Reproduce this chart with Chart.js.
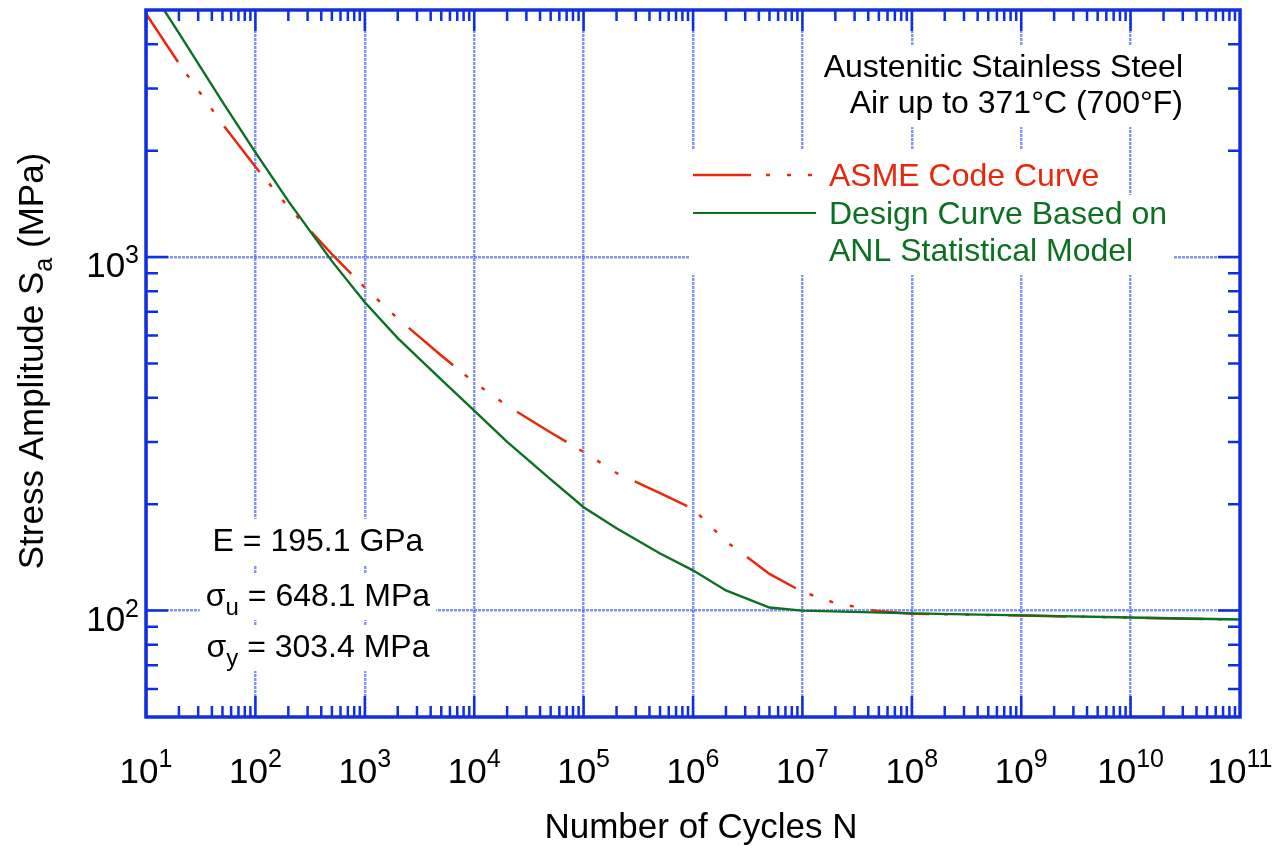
<!DOCTYPE html>
<html>
<head>
<meta charset="utf-8">
<script src="https://cdn.jsdelivr.net/npm/chart.js@4.4.0/dist/chart.umd.min.js"></script>
<style>
  html, body { margin: 0; padding: 0; background: #fff; }
</style>
</head>
<body>
<canvas id="fatigueChart" width="1278" height="848"></canvas>
<script>
// ASME code curve, austenitic SS (MPa)
const asmeCycles = [10, 20, 50, 100, 200, 500, 1e3, 2e3, 5e3, 1e4, 2e4, 5e4, 1e5, 2e5, 5e5, 1e6, 2e6, 5e6, 1e7, 2e7, 5e7, 1e8, 1e9, 1e10, 1e11];
const asmeStress = [4881, 3530, 2379, 1800, 1386, 1020, 820, 670, 527, 442, 380, 319, 281, 245, 215, 194, 157, 127, 113, 105, 99.5, 98, 96.8, 95.5, 94.3];

// design curve from ANL statistical model (MPa)
const anlCycles = [10, 20, 50, 100, 200, 500, 1e3, 2e3, 5e3, 1e4, 2e4, 5e4, 1e5, 2e5, 5e5, 1e6, 2e6, 5e6, 1e7, 1e8, 1e9, 1e10, 1e11];
const anlStress = [6000, 4300, 2748, 1978, 1440, 974, 745, 590, 450, 368, 300, 235, 196, 171, 145, 130, 114, 102, 100, 98.2, 96.9, 95.6, 94.4];

const xTickExps = [1, 2, 3, 4, 5, 6, 7, 8, 9, 10, 11];
const yTickExps = [2, 3];

const seriesNames = ['ASME Code Curve', 'Design Curve Based on ANL Statistical Model'];

const FONT = '"Liberation Sans", Arial, Helvetica, sans-serif';
const AXIS_BLUE = '#1030e0';
const GRID_BLUE = 'rgba(45,80,235,0.6)';
const RED = '#e8280c';
const GREEN = '#0b7021';
const redDash = [58, 15, 4, 17, 4, 17, 4, 18];

function toPoints(xs, ys) {
  return xs.map((x, i) => ({ x: x, y: ys[i] }));
}

// draw a run of text pieces (for sub/superscripts); returns width
function textRun(ctx, parts, x, y, align, box) {
  let w = 0;
  parts.forEach(p => {
    ctx.font = p.size + 'px ' + FONT;
    p.w = ctx.measureText(p.t).width;
    w += p.w;
  });
  let left = x;
  if (align === 'center') left = x - w / 2;
  if (align === 'right') left = x - w;
  if (box) {
    ctx.fillStyle = '#fff';
    ctx.fillRect(left - 6, y - 32, w + 12, 46);
  }
  ctx.textAlign = 'left';
  ctx.textBaseline = 'alphabetic';
  let cx = left;
  parts.forEach(p => {
    ctx.font = p.size + 'px ' + FONT;
    ctx.fillStyle = p.color || '#000';
    ctx.fillText(p.t, cx, y + (p.dy || 0));
    cx += p.w;
  });
  return w;
}

const notesPlugin = {
  id: 'notes',
  beforeDatasetsDraw(chart) {
    const ctx = chart.ctx;
    ctx.save();
    // material heading
    textRun(ctx, [{ t: 'Austenitic Stainless Steel', size: 32 }], 1183, 77, 'right', true);
    textRun(ctx, [{ t: 'Air up to 371°C (700°F)', size: 32 }], 1183, 113, 'right', true);

    // legend
    const redW = textRun(ctx, [{ t: seriesNames[0], size: 32, color: RED }], 829, 186, 'left', false);
    ctx.fillStyle = '#fff';
    ctx.fillRect(690, 150, 829 + redW + 8 - 690, 50);
    ctx.fillRect(690, 195, 483, 80);
    textRun(ctx, [{ t: seriesNames[0], size: 32, color: RED }], 829, 186, 'left', false);
    textRun(ctx, [{ t: 'Design Curve Based on', size: 32, color: GREEN }], 829, 224, 'left', false);
    textRun(ctx, [{ t: 'ANL Statistical Model', size: 32, color: GREEN }], 829, 261, 'left', false);

    ctx.lineWidth = 2.5;
    ctx.strokeStyle = RED;
    ctx.setLineDash(redDash);
    ctx.beginPath();
    ctx.moveTo(693, 175);
    ctx.lineTo(816, 175);
    ctx.stroke();
    ctx.setLineDash([]);
    ctx.lineWidth = 2.2;
    ctx.strokeStyle = GREEN;
    ctx.beginPath();
    ctx.moveTo(693, 213);
    ctx.lineTo(816, 213);
    ctx.stroke();

    // material properties
    textRun(ctx, [{ t: 'E = 195.1 GPa', size: 32 }], 318, 551, 'center', true);
    textRun(ctx, [{ t: 'σ', size: 32 }, { t: 'u', size: 24, dy: 9 }, { t: ' = 648.1 MPa', size: 32 }], 318, 606, 'center', true);
    textRun(ctx, [{ t: 'σ', size: 32 }, { t: 'y', size: 24, dy: 9 }, { t: ' = 303.4 MPa', size: 32 }], 318, 657, 'center', true);
    ctx.restore();
  },
  afterDraw(chart) {
    const ctx = chart.ctx;
    const a = chart.chartArea;
    const xs = chart.scales.x;
    const ys = chart.scales.y;
    ctx.save();

    // tick marks, inward on all four sides
    ctx.strokeStyle = AXIS_BLUE;
    ctx.lineWidth = 2.5;
    ctx.beginPath();
    for (let e = 1; e <= 10; e++) {
      for (let d = 1; d <= 9; d++) {
        const v = d * Math.pow(10, e);
        const px = xs.getPixelForValue(v);
        const len = d === 1 ? 21 : 11;
        ctx.moveTo(px, a.bottom); ctx.lineTo(px, a.bottom - len);
        ctx.moveTo(px, a.top); ctx.lineTo(px, a.top + len);
      }
    }
    for (let e = 1; e <= 3; e++) {
      for (let d = 1; d <= 9; d++) {
        const v = d * Math.pow(10, e);
        if (v <= ys.min || v >= ys.max) continue;
        const py = ys.getPixelForValue(v);
        const len = d === 1 ? 22 : 12;
        ctx.moveTo(a.left, py); ctx.lineTo(a.left + len, py);
        ctx.moveTo(a.right, py); ctx.lineTo(a.right - len, py);
      }
    }
    ctx.stroke();

    // frame
    ctx.lineWidth = 3.5;
    ctx.strokeRect(a.left, a.top, a.right - a.left, a.bottom - a.top);

    // tick labels with superscripts
    xTickExps.forEach(e => {
      const px = xs.getPixelForValue(Math.pow(10, e));
      textRun(ctx, [{ t: '10', size: 35 }, { t: String(e), size: 25, dy: -16 }], px, 783, 'center', false);
    });
    yTickExps.forEach(e => {
      const py = ys.getPixelForValue(Math.pow(10, e));
      textRun(ctx, [{ t: '10', size: 35 }, { t: String(e), size: 25, dy: -14 }], a.left - 7, py + 20, 'right', false);
    });

    // axis titles
    textRun(ctx, [{ t: 'Number of Cycles N', size: 35 }], 701, 838, 'center', false);
    ctx.translate(43, 361);
    ctx.rotate(-Math.PI / 2);
    textRun(ctx, [{ t: 'Stress Amplitude S', size: 35 }, { t: 'a', size: 25, dy: 9 }, { t: ' (MPa)', size: 35 }], 0, 0, 'center', false);
    ctx.restore();
  }
};

const ctx = document.getElementById('fatigueChart').getContext('2d');
const chart = new Chart(ctx, {
  type: 'line',
  data: {
    datasets: [
      {
        label: seriesNames[0],
        data: toPoints(asmeCycles, asmeStress),
        borderColor: RED,
        borderWidth: 2.5,
        borderDash: redDash,
        pointRadius: 0,
        tension: 0,
        order: 2
      },
      {
        label: seriesNames[1],
        data: toPoints(anlCycles, anlStress),
        borderColor: GREEN,
        borderWidth: 2.4,
        pointRadius: 0,
        tension: 0,
        order: 1
      }
    ]
  },
  options: {
    responsive: false,
    animation: false,
    devicePixelRatio: 1,
    layout: { padding: { left: 146, right: 38, top: 10, bottom: 131 } },
    plugins: {
      legend: { display: false },
      tooltip: { enabled: false }
    },
    scales: {
      x: {
        type: 'logarithmic',
        min: 10,
        max: 1e11,
        afterBuildTicks: s => { s.ticks = xTickExps.map(e => ({ value: Math.pow(10, e) })); },
        afterFit: s => { s.height = 0; },
        ticks: { display: false },
        grid: { drawTicks: false, color: GRID_BLUE, lineWidth: 2.5 },
        border: { display: false, dash: [3, 1] }
      },
      y: {
        type: 'logarithmic',
        min: 50,
        max: 5000,
        afterBuildTicks: s => { s.ticks = yTickExps.map(e => ({ value: Math.pow(10, e) })); },
        afterFit: s => { s.width = 0; },
        ticks: { display: false },
        grid: { drawTicks: false, color: GRID_BLUE, lineWidth: 2.5 },
        border: { display: false, dash: [3, 1] }
      }
    }
  },
  plugins: [notesPlugin]
});
</script>
</body>
</html>
